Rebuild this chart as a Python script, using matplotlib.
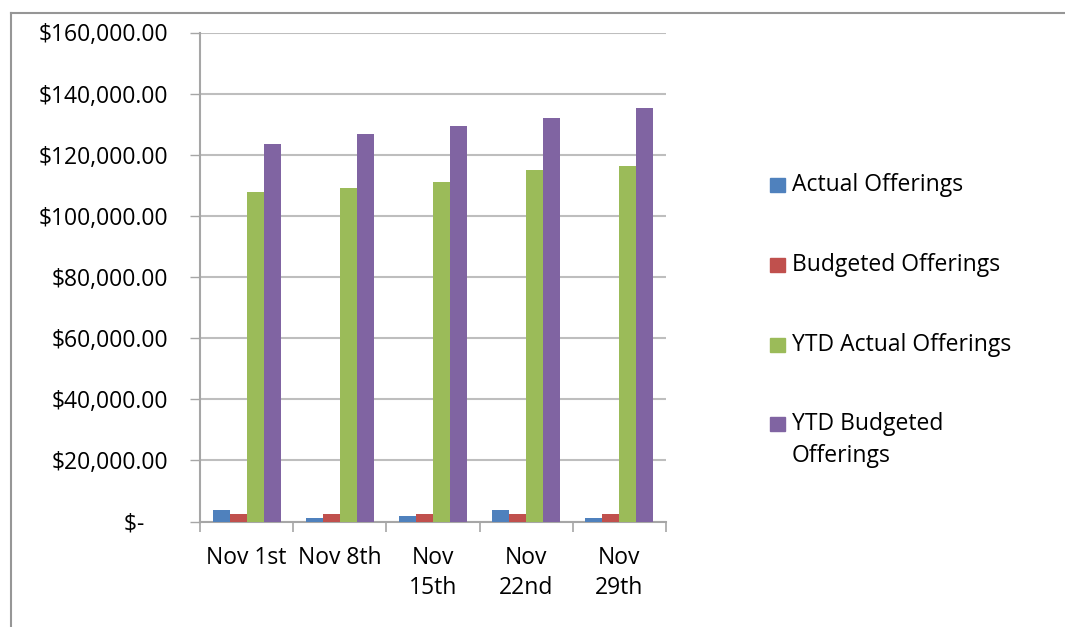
import matplotlib
matplotlib.use("Agg")
import matplotlib.pyplot as plt
import numpy as np
from matplotlib.lines import Line2D
from matplotlib.patches import Rectangle

categories = ["Nov 1st", "Nov 8th", "Nov\n15th", "Nov\n22nd", "Nov\n29th"]
series_names = ["Actual Offerings", "Budgeted Offerings", "YTD Actual Offerings",
                "YTD Budgeted\nOfferings"]
actual = [3700, 1100, 1750, 3700, 1100]
budgeted = [2400, 2400, 2400, 2400, 2400]
ytd_actual = [107800, 109200, 111100, 115000, 116400]
ytd_budgeted = [123500, 126800, 129400, 132100, 135300]
colors = ["#4F81BD", "#C0504D", "#9BBB59", "#8064A2"]
y_ticks = [0, 20000, 40000, 60000, 80000, 100000, 120000, 140000, 160000]

FS = 16.5
plt.rcParams["font.family"] = ["Open Sans", "DejaVu Sans"]
fig = plt.figure(figsize=(10.65, 6.27), dpi=100)
ax = fig.add_axes([200 / 1065, 1 - 521.5 / 627, 466 / 1065, 489 / 627])

x = np.arange(len(categories))
w = 0.1825
for i, vals in enumerate([actual, budgeted, ytd_actual, ytd_budgeted]):
    ax.bar(x + (i - 1.5) * w, vals, width=w, color=colors[i], zorder=3)

ax.set_xlim(-0.5, len(categories) - 0.5)
ax.set_ylim(0, 160000)
ax.set_yticks(y_ticks)
labels = ["$-    "] + ["${:,.2f}".format(v) for v in y_ticks[1:]]
ax.set_yticklabels(labels, fontsize=FS)
ax.yaxis.grid(True, color="#BEBEBE", linewidth=1.5, zorder=0)
ax.tick_params(axis="y", direction="out", length=7, width=1, color="#A6A6A6", pad=16)

ax.set_xticks(x)
ax.set_xticklabels(categories, fontsize=FS, linespacing=1.32, va="top")
ax.tick_params(axis="x", length=0, pad=18)
ax.set_xticks(np.arange(-0.5, len(categories)), minor=True)
ax.tick_params(axis="x", which="minor", direction="out", length=7, width=1.2, color="#A6A6A6")

for s in ["top", "right"]:
    ax.spines[s].set_visible(False)
for s in ["left", "bottom"]:
    ax.spines[s].set_color("#A6A6A6")
    ax.spines[s].set_linewidth(1.5)

# legend
leg_y = [185, 265, 345, 424]
for name, c, yy in zip(series_names, colors, leg_y):
    fig.patches.append(Rectangle((770 / 1065, 1 - (yy + 7) / 627), 15 / 1065, 14 / 627,
                                 transform=fig.transFigure, color=c))
    fig.text(792 / 1065, 1 - (yy - 12) / 627, name, fontsize=FS, va="top",
             linespacing=1.45)

# chart frame (cropped)
fig.add_artist(Line2D([10.5 / 1065, 10.5 / 1065], [0, 1 - 12.5 / 627], color="#969696", lw=1.5))
fig.add_artist(Line2D([10.5 / 1065, 1], [1 - 12.5 / 627, 1 - 12.5 / 627], color="#969696", lw=1.5))

fig.savefig("out.png", dpi=100)
